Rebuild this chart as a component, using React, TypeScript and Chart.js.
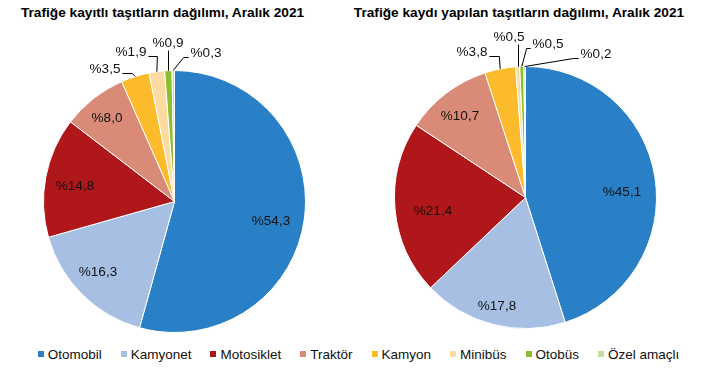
import React, { useEffect, useRef } from "react";
import { Chart, registerables } from "chart.js";

Chart.register(...registerables);

// ---- data ----
const categories = ["Otomobil", "Kamyonet", "Motosiklet", "Traktör", "Kamyon", "Minibüs", "Otobüs", "Özel amaçlı"];
const registeredShares = [54.3, 16.3, 14.8, 8.0, 3.5, 1.9, 0.9, 0.3];
const newRegistrationShares = [45.1, 17.8, 21.4, 10.7, 3.8, 0.5, 0.5, 0.2];
const titleLeft = "Trafiğe kayıtlı taşıtların dağılımı, Aralık 2021";
const titleRight = "Trafiğe kaydı yapılan taşıtların dağılımı, Aralık 2021";

// ---- styles ----
const colors = ["#2A80C6", "#A6BFE3", "#B0171A", "#D98B77", "#FCBB2B", "#FCDBA3", "#8DBE2E", "#C6DDA0"];
const FONT = "'Liberation Sans', Arial, sans-serif";

type Place = { mode: "in" | "left" | "right" | "above"; dx: number; dy: number; elbow?: number };

const leftPlaces: Place[] = [
  { mode: "in", dx: 96.5, dy: 20 },
  { mode: "in", dx: -76.5, dy: 71 },
  { mode: "in", dx: -99.5, dy: -15 },
  { mode: "in", dx: -67.5, dy: -83 },
  { mode: "left", dx: -69.5, dy: -132, elbow: 10 },
  { mode: "left", dx: -43.5, dy: -149, elbow: 9 },
  { mode: "above", dx: -6.5, dy: -158 },
  { mode: "right", dx: 31.5, dy: -148, elbow: 5 },
];
const rightPlaces: Place[] = [
  { mode: "in", dx: 96.5, dy: -5 },
  { mode: "in", dx: -28.5, dy: 109 },
  { mode: "in", dx: -92.5, dy: 14 },
  { mode: "in", dx: -65.5, dy: -81 },
  { mode: "left", dx: -53.5, dy: -145, elbow: 10 },
  { mode: "above", dx: -16.5, dy: -160 },
  { mode: "right", dx: 22.5, dy: -153, elbow: 4 },
  { mode: "right", dx: 70.5, dy: -143, elbow: 5 },
];

function makeLabelPlugin(values: number[], places: Place[]) {
  return {
    id: "sliceLabels",
    afterDatasetsDraw(chart: any) {
      const ctx = chart.ctx as CanvasRenderingContext2D;
      const meta = chart.getDatasetMeta(0);
      ctx.save();
      ctx.font = `13.5px ${FONT}`;
      ctx.fillStyle = "#111";
      ctx.strokeStyle = "#000";
      ctx.lineWidth = 1;
      ctx.textAlign = "center";
      ctx.textBaseline = "middle";
      meta.data.forEach((arc: any, i: number) => {
        const { x, y, startAngle, endAngle, outerRadius } = arc.getProps(
          ["x", "y", "startAngle", "endAngle", "outerRadius"],
          true
        );
        const p = places[i];
        const text = "%" + values[i].toFixed(1).replace(".", ",");
        const tx = x + p.dx;
        const ty = y + p.dy;
        ctx.fillText(text, tx, ty);
        if (p.mode !== "in") {
          const mid = (startAngle + endAngle) / 2;
          const ax = x + Math.cos(mid) * outerRadius;
          const ay = y + Math.sin(mid) * outerRadius;
          const w = ctx.measureText(text).width;
          ctx.beginPath();
          if (p.mode === "above") {
            const lx = Math.round(ax) + 0.5;
            ctx.moveTo(lx, ty + 7);
            ctx.lineTo(lx, ay);
          } else {
            const sign = p.mode === "left" ? 1 : -1;
            const sx = tx + sign * (w / 2 + 2);
            const ly = Math.round(ty + 3) + 0.5;
            ctx.moveTo(sx, ly);
            ctx.lineTo(sx + sign * (p.elbow || 0), ly);
            ctx.lineTo(ax, ay);
          }
          ctx.stroke();
        }
      });
      ctx.restore();
    },
  };
}

function PieChart(props: {
  values: number[];
  places: Place[];
  left: number;
  width: number;
  height: number;
  padding: { left: number; right: number; top: number; bottom: number };
}) {
  const ref = useRef<HTMLCanvasElement | null>(null);
  useEffect(() => {
    if (!ref.current) return;
    const chart = new Chart(ref.current, {
      type: "pie",
      data: {
        labels: categories,
        datasets: [
          {
            data: props.values,
            backgroundColor: colors,
            borderColor: "#ffffff",
            borderWidth: 1,
            hoverOffset: 0,
            offset: 0,
          },
        ],
      },
      options: {
        responsive: false,
        animation: false,
        devicePixelRatio: 1,
        events: [],
        layout: { padding: props.padding },
        plugins: {
          legend: { display: false },
          tooltip: { enabled: false },
          title: { display: false },
        },
      },
      plugins: [makeLabelPlugin(props.values, props.places)],
    } as any);
    return () => chart.destroy();
  }, []);
  return (
    <canvas
      ref={ref}
      width={props.width}
      height={props.height}
      style={{ position: "absolute", left: props.left, top: 0, width: props.width, height: props.height }}
    />
  );
}

const titleStyle: React.CSSProperties = {
  position: "absolute",
  top: 5,
  font: `bold 13.7px ${FONT}`,
  lineHeight: "16px",
  whiteSpace: "nowrap",
  color: "#000",
  transform: "translateX(-50%)",
};

export default function App() {
  return (
    <div
      style={{
        position: "absolute",
        left: 0,
        top: 0,
        width: 717,
        height: 379,
        background: "#fff",
        overflow: "hidden",
        fontFamily: FONT,
      }}
    >
      <div style={{ ...titleStyle, left: 162.5 }}>{titleLeft}</div>
      <div style={{ ...titleStyle, left: 519 }}>{titleRight}</div>
      <PieChart
        values={registeredShares}
        places={leftPlaces}
        left={0}
        width={358}
        height={340}
        padding={{ left: 43, right: 52, top: 70, bottom: 7 }}
      />
      <PieChart
        values={newRegistrationShares}
        places={rightPlaces}
        left={358}
        width={359}
        height={340}
        padding={{ left: 36, right: 60, top: 66, bottom: 11 }}
      />
      <div
        style={{
          position: "absolute",
          left: 0,
          top: 346,
          width: 717,
          height: 16,
          display: "flex",
          justifyContent: "center",
          alignItems: "center",
          font: `13.5px ${FONT}`,
          color: "#111",
          whiteSpace: "nowrap",
        }}
      >
        {categories.map((c, i) => (
          <div key={c} style={{ display: "flex", alignItems: "center", marginRight: i < categories.length - 1 ? 19 : 0 }}>
            <span style={{ display: "inline-block", width: 6, height: 6, background: colors[i], marginRight: 4 }} />
            <span>{c}</span>
          </div>
        ))}
      </div>
    </div>
  );
}
